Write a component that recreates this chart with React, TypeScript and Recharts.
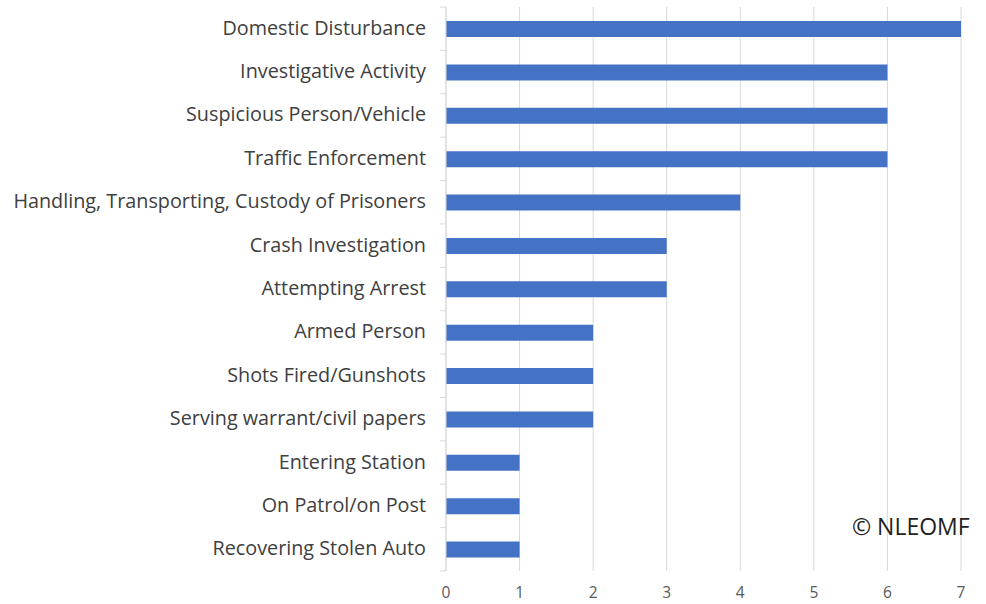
import { BarChart, Bar, XAxis, YAxis, CartesianGrid } from "recharts";

const categories = [
  "Domestic Disturbance",
  "Investigative Activity",
  "Suspicious Person/Vehicle",
  "Traffic Enforcement",
  "Handling, Transporting, Custody of Prisoners",
  "Crash Investigation",
  "Attempting Arrest",
  "Armed Person",
  "Shots Fired/Gunshots",
  "Serving warrant/civil papers",
  "Entering Station",
  "On Patrol/on Post",
  "Recovering Stolen Auto",
];
const counts = [7, 6, 6, 6, 4, 3, 3, 2, 2, 2, 1, 1, 1];
const xTicks = [0, 1, 2, 3, 4, 5, 6, 7];

const data = categories.map((name, i) => ({ name, value: counts[i] }));

const FONT = "'Open Sans', 'Noto Sans', sans-serif";
const BAND = 564 / categories.length;

// category label plus the little boundary tick marks Excel draws
function CategoryTick(props: any) {
  const { x, y, payload, index } = props;
  const half = BAND / 2;
  return (
    <g>
      <line x1={x + 2} x2={x + 8} y1={y - half} y2={y - half} stroke="#d9d9d9" />
      {index === categories.length - 1 && (
        <line x1={x + 2} x2={x + 8} y1={y + half} y2={y + half} stroke="#d9d9d9" />
      )}
      <text
        x={x - 12}
        y={y}
        dy={6}
        textAnchor="end"
        fill="#404040"
        fontSize={19.8}
        fontFamily={FONT}
      >
        {payload.value}
      </text>
    </g>
  );
}

export default function App() {
  return (
    <div
      style={{
        position: "absolute",
        left: 0,
        top: 0,
        width: 986,
        height: 604,
        background: "#fff",
      }}
    >
      <BarChart
        width={986}
        height={604}
        data={data}
        layout="vertical"
        margin={{ top: 7, right: 25, bottom: 0, left: 0 }}
        barCategoryGap={0}
      >
        <CartesianGrid horizontal={false} stroke="#d9d9d9" />
        <XAxis
          type="number"
          domain={[0, 7]}
          ticks={xTicks}
          height={33}
          axisLine={false}
          tickLine={false}
          tick={{ fill: "#595959", fontSize: 15.5, fontFamily: FONT }}
          tickMargin={10}
          interval={0}
        />
        <YAxis
          type="category"
          dataKey="name"
          width={446}
          axisLine={{ stroke: "#d9d9d9" }}
          tickLine={false}
          tick={<CategoryTick />}
          interval={0}
        />
        <Bar dataKey="value" fill="#4472c4" barSize={16} isAnimationActive={false} />
      </BarChart>
      <div
        style={{
          position: "absolute",
          left: 852,
          top: 510,
          fontSize: 23,
          fontFamily: FONT,
          color: "#222",
        }}
      >
        © NLEOMF
      </div>
    </div>
  );
}
